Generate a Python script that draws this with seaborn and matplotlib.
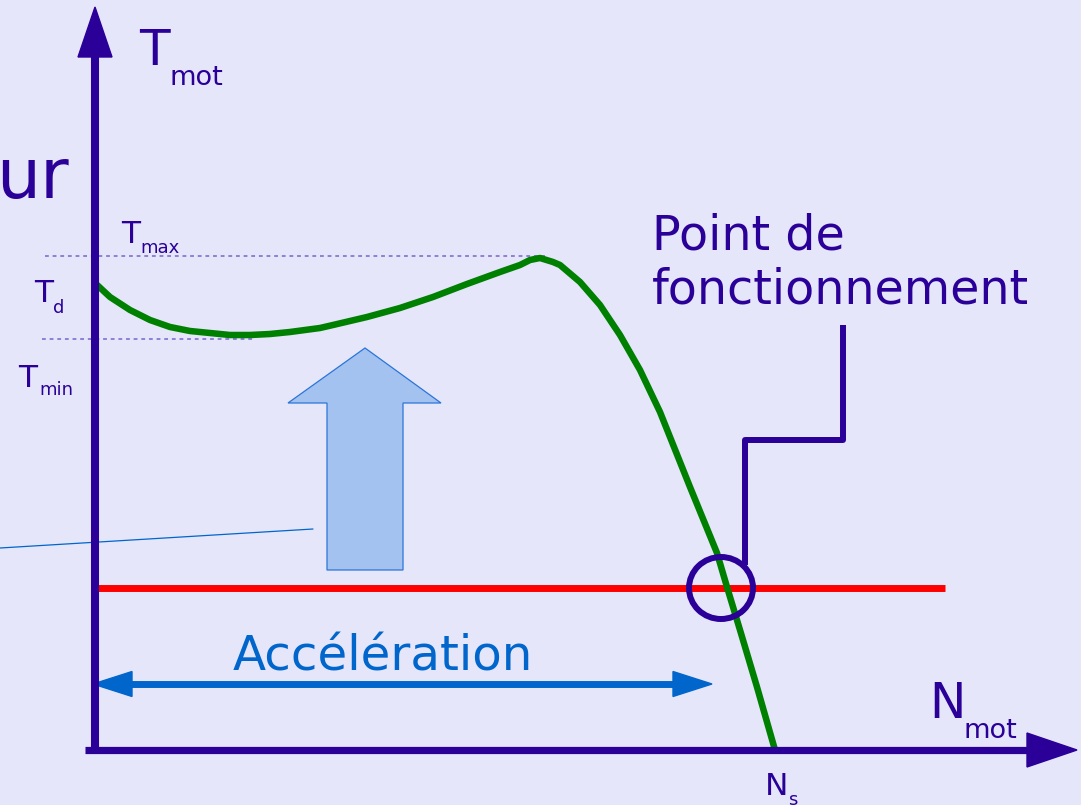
import matplotlib
matplotlib.use("Agg")
import matplotlib.pyplot as plt
from matplotlib.patches import Ellipse, Polygon
import seaborn as sns

# courbe couple moteur (N_mot, T_mot), unités = px depuis l'origine
n_mot = [0, 15, 35, 55, 75, 95, 115, 135, 155, 175, 195, 225, 238, 272, 305, 338,
         372, 405, 425, 435, 445, 458, 465, 485, 505, 525, 545, 565, 595, 622, 632,
         645, 662, 680]
t_mot = [467, 453, 440, 430, 423, 419, 417, 415, 415, 416, 418, 422, 425, 433, 442, 453,
         466, 478, 485, 490, 492, 488, 485, 468, 445, 415, 380, 338, 263, 197, 163,
         120, 63, 0]

# couple résistant (charge)
n_charge = [-4, 850]
t_charge = [162, 162]

# point de fonctionnement + trait de rappel
n_pf, t_pf = 626, 162
n_rappel = [650, 650, 748, 748]
t_rappel = [185, 310, 310, 425]

t_max, t_min = 494, 411

bg = '#e6e6fb'
indigo = '#2a0099'
bleu = '#0066cc'

sns.set_style('white')
plt.rcParams['font.family'] = ['DejaVu Sans']

fig = plt.figure(figsize=(10.81, 8.05), dpi=100)
fig.patch.set_facecolor(bg)
ax = fig.add_axes([0, 0, 1, 1])
ax.set_facecolor(bg)
ax.set_xlim(-95, 986)
ax.set_ylim(-55, 750)
ax.axis('off')

# pointillés Tmax / Tmin
ax.plot([-50, 450], [t_max, t_max], ls=(0, (2.5, 2.5)), lw=1.1, color='#7766cc', zorder=1)
ax.plot([-53, 160], [t_min, t_min], ls=(0, (2.5, 2.5)), lw=1.1, color='#7766cc', zorder=1)

# trait fin bleu
ax.plot([-95, 218], [202, 221], color=bleu, lw=0.9, zorder=1)

# grosse flèche "accélération"
fleche = [(232, 180), (308, 180), (308, 347), (346, 347), (270, 402),
          (193, 347), (232, 347)]
ax.add_patch(Polygon(fleche, closed=True, fc='#a4c2f0', ec='#2a75d8', lw=0.9, zorder=2))

# couple résistant
sns.lineplot(x=n_charge, y=t_charge, color='#ff0000', lw=5, ax=ax, zorder=3,
             solid_capstyle='butt')

# courbe moteur
sns.lineplot(x=n_mot, y=t_mot, color='#008000', lw=4.7, ax=ax, zorder=4,
             estimator=None, sort=False, solid_capstyle='butt', solid_joinstyle='round')

# axes
ax.plot([0, 0], [0, 694], color=indigo, lw=5.8, solid_capstyle='butt', zorder=5)
ax.add_patch(Polygon([(-17, 693), (17, 693), (0, 743)], closed=True, color=indigo, zorder=5))
ax.plot([-10, 933], [0, 0], color=indigo, lw=5.2, solid_capstyle='butt', zorder=5)
ax.add_patch(Polygon([(932, 17), (932, -17), (982, 0)], closed=True, color=indigo, zorder=5))

# double flèche accélération
ax.plot([30, 585], [66, 66], color=bleu, lw=5, solid_capstyle='butt', zorder=3)
ax.add_patch(Polygon([(578, 78.5), (578, 53.5), (617, 66)], closed=True, color=bleu, zorder=3))
ax.add_patch(Polygon([(37, 78.5), (37, 53.5), (-2, 66)], closed=True, color=bleu, zorder=3))

# point de fonctionnement
ax.add_patch(Ellipse((n_pf, t_pf), 64, 62, fill=False, ec=indigo, lw=4.3, zorder=6))
sns.lineplot(x=n_rappel, y=t_rappel, color=indigo, lw=4.3, ax=ax, zorder=6,
             estimator=None, sort=False, solid_capstyle='butt')

# textes
def txt(x, y, s, size, color=indigo, ha='left'):
    ax.text(x, y, s, fontsize=size, color=color, ha=ha, va='baseline', zorder=7)

txt(44, 685, 'T', 36)
txt(75, 665, 'mot', 19.5)
txt(-26, 552, 'ur', 50, ha='right')
txt(26, 507, 'T', 22.5)
txt(45, 497, 'max', 13)
txt(-61, 448, 'T', 22.5)
txt(-42, 437, 'd', 13)
txt(-77, 363, 'T', 22.5)
txt(-56, 355, 'min', 13)
txt(557, 500, 'Point de', 34.3)
txt(557, 446, 'fonctionnement', 34.3)
txt(138, 80, 'Accélération', 34.8, color=bleu)
txt(834, 32, 'N', 35)
txt(868, 12, 'mot', 19.5)
txt(670, -45, 'N', 22.5)
txt(693, -55, 's', 13)

fig.savefig('out.png', dpi=100, facecolor=bg)
